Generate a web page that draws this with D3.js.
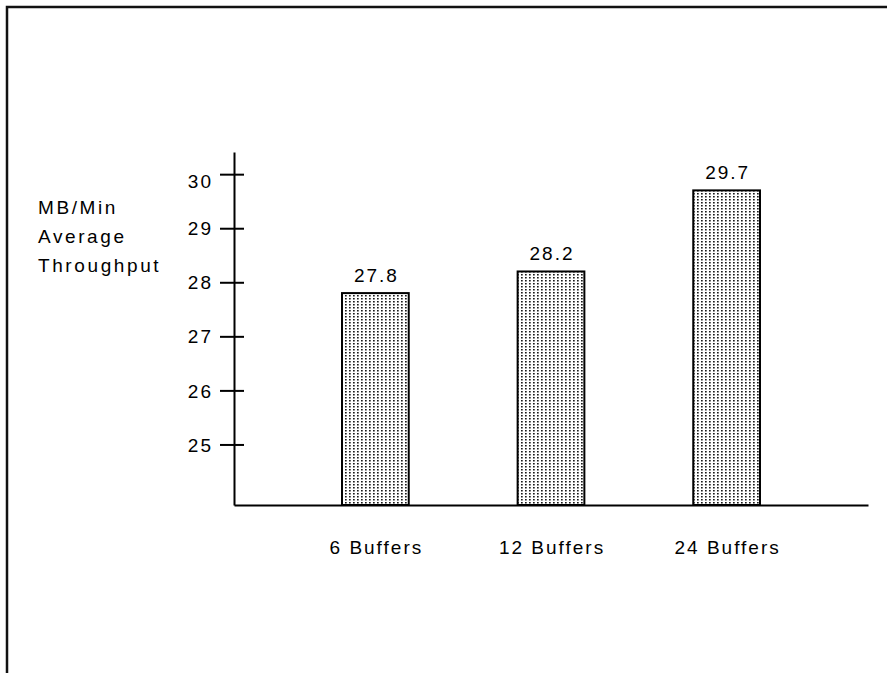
<!DOCTYPE html>
<html>
<head>
<meta charset="utf-8">
<script src="https://cdn.jsdelivr.net/npm/d3@7"></script>
<style>
  html, body { margin: 0; padding: 0; background: #fff; }
  svg { display: block; }
  text { font-family: "Liberation Sans", Arial, sans-serif; fill: #000; letter-spacing: 2px; }
</style>
</head>
<body>
<svg id="chart" width="887" height="673"></svg>
<script>
const categories = ["6 Buffers", "12 Buffers", "24 Buffers"];
const values = [27.8, 28.2, 29.7];
const tickValues = [25, 26, 27, 28, 29, 30];
const yTitle = ["MB/Min", "Average", "Throughput"];

const svg = d3.select("#chart");
const W = 887, H = 673;
const fontSize = 19;

// frame
svg.append("path")
  .attr("d", `M7,${H} V7 H${W}`)
  .attr("fill", "none")
  .attr("stroke", "#111")
  .attr("stroke-width", 2.5);

// dotted pattern
const defs = svg.append("defs");
const pat = defs.append("pattern")
  .attr("id", "dots")
  .attr("patternUnits", "userSpaceOnUse")
  .attr("width", 4).attr("height", 3);
pat.append("rect").attr("width", 4).attr("height", 3).attr("fill", "#fff");
pat.append("rect").attr("x", 1).attr("y", 1).attr("width", 1.7).attr("height", 1.5).attr("fill", "#1a1a1a");

const x = d3.scaleBand()
  .domain(categories)
  .range([234, 868])
  .paddingInner(0.62)
  .paddingOuter(0.615);

const y = d3.scaleLinear()
  .domain([23.88, 30.41])
  .range([505, 152]);

// bars
svg.append("g").selectAll("rect")
  .data(values)
  .join("rect")
  .attr("x", (d, i) => x(categories[i]))
  .attr("y", d => y(d))
  .attr("width", x.bandwidth())
  .attr("height", d => y.range()[0] - y(d))
  .attr("fill", "url(#dots)")
  .attr("stroke", "#000")
  .attr("stroke-width", 2);

// value labels
svg.append("g").selectAll("text")
  .data(values)
  .join("text")
  .attr("x", (d, i) => x(categories[i]) + x.bandwidth() / 2 + 1)
  .attr("y", d => y(d) - 11)
  .attr("text-anchor", "middle")
  .style("font-size", fontSize + "px")
  .text(d => d.toFixed(1));

// y axis
const yAxis = svg.append("g")
  .attr("transform", "translate(234,0)")
  .call(d3.axisLeft(y).tickValues(tickValues).tickFormat(d3.format("d"))
    .tickSizeInner(14).tickSizeOuter(0).tickPadding(7));
yAxis.select(".domain").attr("stroke", "#000").attr("stroke-width", 2);
yAxis.selectAll(".tick line").attr("x1", -14).attr("x2", 10).attr("stroke", "#000").attr("stroke-width", 2);
yAxis.selectAll(".tick text")
  .style("font-size", fontSize + "px")
  .attr("font-family", null)
  .attr("dy", d => d === 30 ? "0.72em" : "0.35em");

// x axis
const xAxis = svg.append("g")
  .attr("transform", "translate(0,505)")
  .call(d3.axisBottom(x).tickSize(0).tickPadding(36));
xAxis.select(".domain").attr("stroke", "#000").attr("stroke-width", 2);
xAxis.selectAll(".tick text")
  .style("font-size", fontSize + "px")
  .attr("font-family", null)
  .attr("dx", "1px");

// y title
svg.append("g").selectAll("text")
  .data(yTitle)
  .join("text")
  .attr("x", 38)
  .attr("y", (d, i) => 214 + i * 29)
  .style("font-size", fontSize + "px")
  .style("letter-spacing", "2.6px")
  .text(d => d);
</script>
</body>
</html>
